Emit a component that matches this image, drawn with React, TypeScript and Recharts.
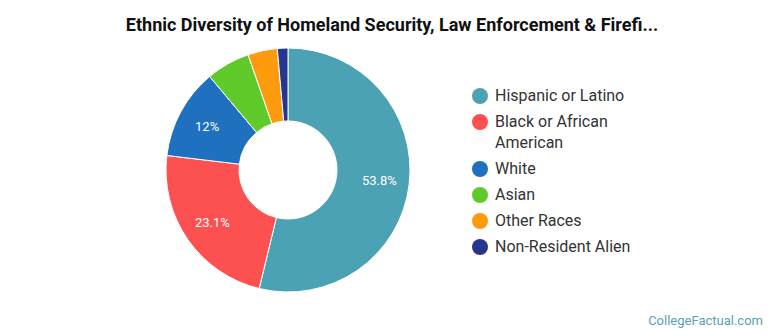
import { Cell, Legend, Pie, PieChart } from "recharts";

document.body.style.margin = "0";

const groups = [
  "Hispanic or Latino",
  "Black or African American",
  "White",
  "Asian",
  "Other Races",
  "Non-Resident Alien",
];
const shares = [53.8, 23.1, 12, 5.8, 3.9, 1.4];
const colors = ["#4aa2b4", "#fd5151", "#1f70bf", "#5fca2a", "#fd9a0e", "#25378c"];

const data = groups.map((name, i) => ({ name, value: shares[i] }));

const RAD = Math.PI / 180;

function renderLabel(props: any) {
  const { cx, cy, midAngle, value } = props;
  if (value < 10) return null;
  const r = 92;
  const x = cx + r * Math.cos(-midAngle * RAD);
  const y = cy + r * Math.sin(-midAngle * RAD);
  return (
    <text
      x={x}
      y={y}
      fill="#ffffff"
      fontSize={13}
      fontFamily="Roboto, sans-serif"
      textAnchor="middle"
      dominantBaseline="central"
    >
      {`${value}%`}
    </text>
  );
}

function LegendList() {
  return (
    <ul style={{ listStyle: "none", margin: 0, padding: 0 }}>
      {groups.map((g, i) => (
        <li key={g} style={{ display: "flex", alignItems: "flex-start", marginBottom: 5 }}>
          <span
            style={{
              width: 16,
              height: 16,
              borderRadius: "50%",
              background: colors[i],
              marginTop: 2.5,
              marginRight: 7,
              flexShrink: 0,
            }}
          />
          <span style={{ fontSize: 16, lineHeight: "21px", color: "#333333" }}>{g}</span>
        </li>
      ))}
    </ul>
  );
}

export default function App() {
  return (
    <div
      style={{
        position: "relative",
        width: 770,
        height: 335,
        background: "#ffffff",
        fontFamily: "Roboto, sans-serif",
      }}
    >
      <div
        style={{
          position: "absolute",
          top: 14,
          left: 0,
          width: 784,
          textAlign: "center",
          fontSize: 18,
          fontWeight: 700,
          color: "#111111",
        }}
      >
        Ethnic Diversity of Homeland Security, Law Enforcement &amp; Firefi...
      </div>
      <PieChart width={770} height={335} margin={{ top: 0, right: 0, bottom: 0, left: 0 }}>
        <Pie
          data={data}
          dataKey="value"
          nameKey="name"
          cx={288}
          cy={170}
          innerRadius={49}
          outerRadius={122}
          startAngle={90}
          endAngle={-270}
          stroke="#ffffff"
          strokeWidth={1}
          label={renderLabel}
          labelLine={false}
          isAnimationActive={false}
        >
          {data.map((d, i) => (
            <Cell key={d.name} fill={colors[i]} />
          ))}
        </Pie>
        <Legend
          layout="vertical"
          content={() => <LegendList />}
          wrapperStyle={{ position: "absolute", left: 472, top: 85, width: 160 }}
        />
      </PieChart>
      <div
        style={{
          position: "absolute",
          right: 7,
          top: 313,
          fontSize: 13,
          color: "#5aa2b4",
        }}
      >
        CollegeFactual.com
      </div>
    </div>
  );
}
